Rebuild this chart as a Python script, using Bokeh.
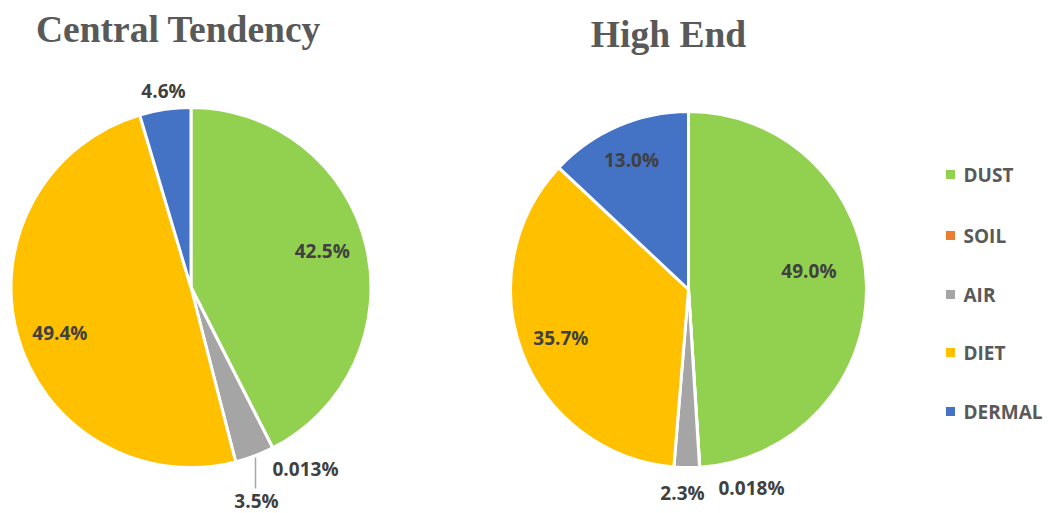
import numpy as np
from bokeh.plotting import figure
from bokeh.models import Range1d, ColumnDataSource
from bokeh.core.properties import value
from bokeh.embed import file_html
from bokeh.resources import INLINE

# ---------------- data ----------------
categories = ["DUST", "SOIL", "AIR", "DIET", "DERMAL"]
central_values = [42.5, 0.013, 3.5, 49.4, 4.6]
central_labels = ["42.5%", "0.013%", "3.5%", "49.4%", "4.6%"]
high_values = [49.0, 0.018, 2.3, 35.7, 13.0]
high_labels = ["49.0%", "0.018%", "2.3%", "35.7%", "13.0%"]
colors = ["#92D050", "#ED7D31", "#A5A5A5", "#FFC000", "#4472C4"]
titles = ["Central Tendency", "High End"]

# ---------------- layout (page pixels) ----------------
W, H = 1048, 513
def Y(py):
    return H - py

p = figure(width=W, height=H, x_range=Range1d(0, W), y_range=Range1d(0, H),
           x_axis_type=None, y_axis_type=None, toolbar_location=None,
           output_backend="svg", min_border=0)
p.grid.visible = False
p.outline_line_color = None
p.background_fill_color = "white"

LABEL_FONT = value("Open Sans")
LABEL_COLOR = "#404040"

pies = [
    dict(vals=central_values, labels=central_labels, cx=190.5, cy=287, r=180,
         title=titles[0], tx=178, ty=29,
         # (mode, a, b): "in" -> nudge (dx, dy) from 0.75r position; "out" -> absolute position
         place=[("in", 0, -5), ("out", 305, 468), ("out", 256, 500), ("in", -1, 9), ("out", 163, 90)]),
    dict(vals=high_values, labels=high_labels, cx=688, cy=289, r=178,
         title=titles[1], tx=668, ty=34,
         place=[("in", -13, -14), ("out", 751, 487), ("out", 682, 492), ("in", -3, 1), ("in", -4, -7)]),
]

for pie in pies:
    vals = np.array(pie["vals"], dtype=float)
    frac = vals / vals.sum()
    cum = np.concatenate([[0.0], np.cumsum(frac)])
    start = np.pi / 2 - 2 * np.pi * cum[:-1]
    end = np.pi / 2 - 2 * np.pi * cum[1:]
    src = ColumnDataSource(dict(start=start, end=end, color=colors, cat=categories))
    p.wedge(x=pie["cx"], y=Y(pie["cy"]), radius=pie["r"], start_angle="start", end_angle="end",
            direction="clock", fill_color="color", line_color="white", line_width=3, source=src)

    mid = (start + end) / 2
    lx, ly = [], []
    for m, (mode, a, b) in zip(mid, pie["place"]):
        if mode == "in":
            px = pie["cx"] + 0.75 * pie["r"] * np.cos(m) + a
            py = pie["cy"] - 0.75 * pie["r"] * np.sin(m) + b
        else:
            px, py = a, b
        lx.append(px)
        ly.append(Y(py))
    p.text(x=lx, y=ly, text=pie["labels"], text_font=LABEL_FONT, text_font_style="bold",
           text_font_size="19px", text_color=LABEL_COLOR, text_align="center",
           text_baseline="middle")

    p.text(x=[pie["tx"]], y=[Y(pie["ty"])], text=[pie["title"]],
           text_font=value("Liberation Serif"), text_font_style="bold",
           text_font_size="37.5px", text_color="#595959", text_align="center",
           text_baseline="middle")

# leader line for AIR label (central tendency)
p.segment(x0=[255], y0=[Y(457)], x1=[255], y1=[Y(488)], line_color="#A6A6A6", line_width=1.5)

# legend
leg_y = [174, 235, 294, 352, 411]
p.scatter(x=[950] * 5, y=[Y(v) for v in leg_y], marker="square", size=9,
          fill_color=colors, line_color=None)
p.text(x=[963] * 5, y=[Y(v) for v in leg_y], text=categories, text_font=LABEL_FONT,
       text_font_style="bold", text_font_size="19px", text_color="#595959",
       text_align="left", text_baseline="middle")

open("out.html", "w").write(file_html(p, INLINE))
